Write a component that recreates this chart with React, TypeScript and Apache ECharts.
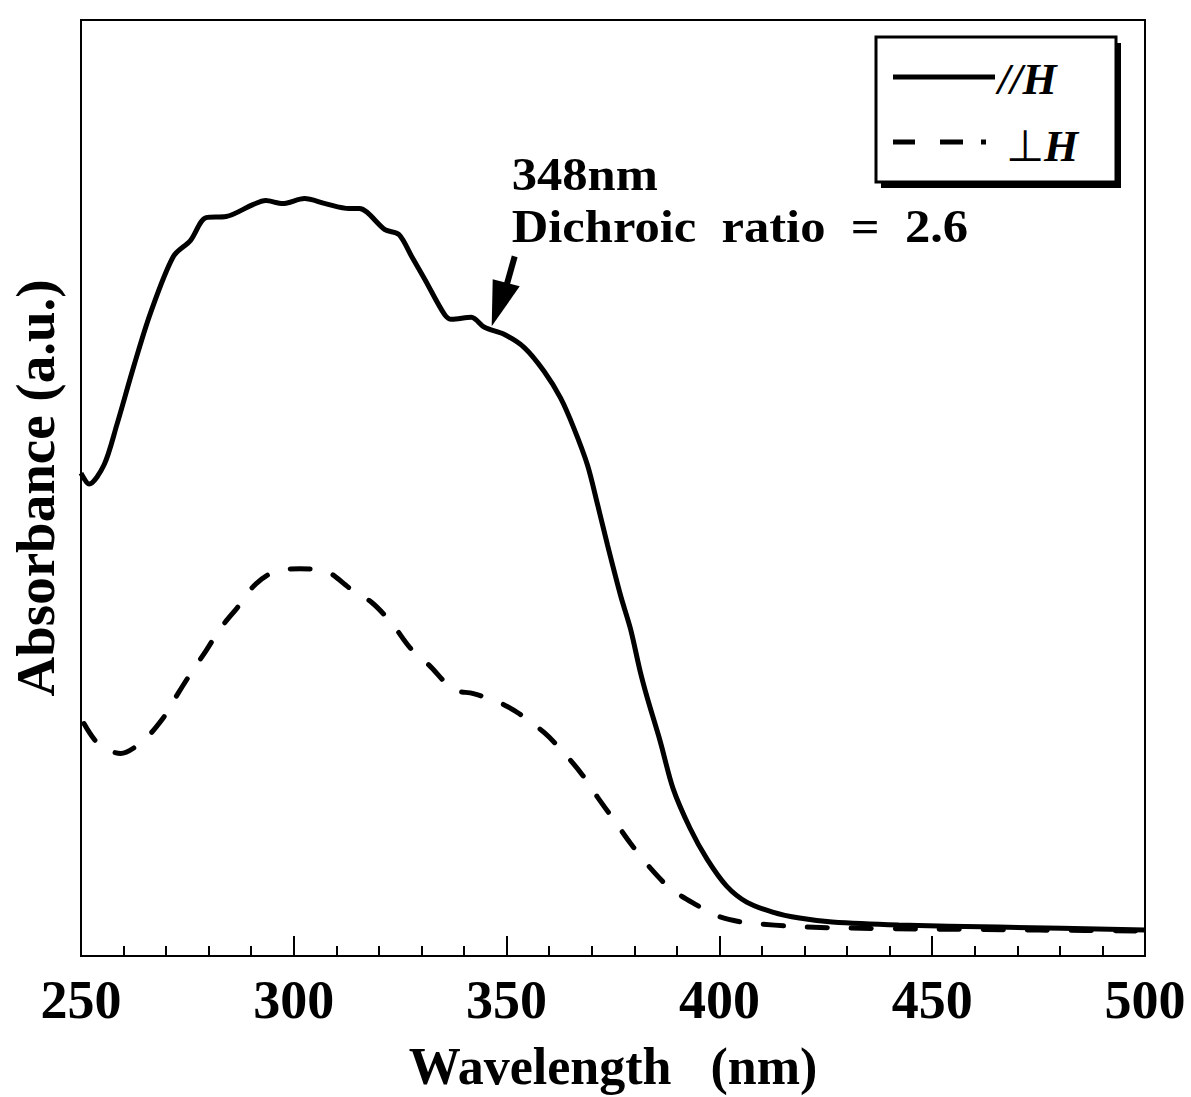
import React, { useEffect, useRef } from "react";
import * as echarts from "echarts";

// Wavelength (nm) and absorbance (arbitrary units)
const parWavelength = [250, 251.9, 255.4, 258.4, 262.4, 266.3, 271.7, 275.7, 279.4, 284.1, 290.4, 293.4, 297.4, 302.5, 307.4, 313.0, 315.4, 321.4, 324.7, 327.7, 330.8, 335.4, 337.1, 341.7, 344.8, 349.4, 354.1, 358.8, 362.7, 365.8, 369.0, 371.4, 373.7, 376.8, 379.1, 381.4, 383.1, 386.1, 389.1, 393.1, 397.1, 401.7, 406.4, 412.5, 418.8, 426.5, 442.1, 465.5, 500];
const parAbsorbance = [484, 473, 492, 532, 591, 644, 701, 717, 740, 741, 753, 757, 754, 759, 754, 749, 749, 728, 723, 701, 678, 643, 638, 640, 630, 623, 610, 586, 559, 529, 492, 452, 412, 361, 328, 285, 258, 215, 168, 128, 97, 70, 54, 44, 38, 34, 31, 29, 26];

const perpWavelength = [250.7, 254.2, 259.3, 264.7, 269.4, 272.2, 275.9, 279.4, 282.7, 286.9, 291.1, 296.7, 301.4, 307.4, 313.0, 318.4, 323.1, 327.3, 331.9, 337.5, 342.2, 348.3, 352.9, 358.8, 363.4, 367.9, 371.4, 375.6, 379.1, 383.8, 388.4, 394.7, 399.6, 405.2, 409.9, 416.0, 420.4, 430, 450, 475, 500];
const perpAbsorbance = [233, 212, 203, 216, 239, 259, 284, 306, 328, 350, 373, 387, 388, 386, 369, 354, 333, 309, 291, 267, 263, 254, 243, 224, 204, 181, 159, 134, 113, 88, 68, 51, 40, 34, 32, 30, 29, 28, 27, 26, 25];

const xMin = 250;
const xMax = 500;
const xInterval = 50;
const yMax = 938;

const arrowWavelength = 346.5;
const arrowAbsorbance = 631;
const annotationLines = ["348nm", "Dichroic  ratio  =  2.6"];
const legendPar = "//H";
const legendPerp = "⊥";
const legendH = "H";

const FONT = "'Liberation Serif', 'Times New Roman', serif";

export default function App() {
  const ref = useRef<HTMLDivElement>(null);

  useEffect(() => {
    if (!ref.current) return;
    const chart = echarts.init(ref.current, undefined, { renderer: "svg" });
    const parData = parWavelength.map((w, i) => [w, parAbsorbance[i]]);
    const perpData = perpWavelength.map((w, i) => [w, perpAbsorbance[i]]);

    chart.setOption({
      animation: false,
      backgroundColor: "#ffffff",
      grid: {
        left: 74,
        right: 46,
        top: 20,
        bottom: 139,
        show: true,
        borderColor: "#000",
        borderWidth: 2,
        backgroundColor: "transparent",
      },
      xAxis: {
        type: "value",
        min: xMin,
        max: xMax,
        interval: xInterval,
        name: "Wavelength   (nm)",
        nameLocation: "middle",
        nameGap: 84,
        nameTextStyle: { fontFamily: FONT, fontWeight: "bold", fontSize: 52, color: "#000" },
        axisLine: { show: true, lineStyle: { color: "#000", width: 2 } },
        axisTick: { show: true, inside: true, length: 20, lineStyle: { color: "#000", width: 2 } },
        minorTick: { show: true, splitNumber: 5, length: 10, lineStyle: { color: "#000", width: 2 } },
        axisLabel: { fontFamily: FONT, fontWeight: "bold", fontSize: 54, color: "#000", margin: 17 },
        splitLine: { show: false },
      },
      yAxis: {
        type: "value",
        min: 0,
        max: yMax,
        name: "Absorbance (a.u.)",
        nameLocation: "middle",
        nameGap: 18,
        nameTextStyle: { fontFamily: FONT, fontWeight: "bold", fontSize: 55, color: "#000" },
        axisLine: { show: true, lineStyle: { color: "#000", width: 2 } },
        axisTick: { show: false },
        axisLabel: { show: false },
        splitLine: { show: false },
      },
      series: [
        {
          name: "//H",
          type: "line",
          data: parData,
          showSymbol: false,
          smooth: 0.3,
          lineStyle: { color: "#000", width: 5 },
        },
        {
          name: "⊥H",
          type: "line",
          data: perpData,
          showSymbol: false,
          smooth: 0.3,
          lineStyle: { color: "#000", width: 5, type: [20, 24], cap: "round" },
        },
      ],
    });

    const tip = chart.convertToPixel({ gridIndex: 0 }, [arrowWavelength, arrowAbsorbance]) as number[];
    const tx = tip[0];
    const ty = tip[1];

    chart.setOption({
      graphic: [
        // annotation
        {
          type: "text",
          x: tx + 20,
          y: ty - 178,
          scaleX: 1.1,
          style: {
            text: annotationLines.join("\n"),
            font: `bold 46px ${FONT}`,
            lineHeight: 52,
            fill: "#000",
            textVerticalAlign: "top",
          },
        },
        {
          type: "line",
          shape: { x1: tx + 23, y1: ty - 70, x2: tx + 14, y2: ty - 38 },
          style: { stroke: "#000", lineWidth: 6 },
        },
        {
          type: "polygon",
          shape: { points: [[tx, ty], [tx + 1, ty - 47], [tx + 28, ty - 40]] },
          style: { fill: "#000" },
        },
        // legend box with shadow
        {
          type: "rect",
          shape: { x: 881, y: 43, width: 240, height: 145 },
          style: { fill: "#000" },
        },
        {
          type: "rect",
          shape: { x: 876, y: 37, width: 240, height: 145 },
          style: { fill: "#fff", stroke: "#000", lineWidth: 3 },
        },
        {
          type: "line",
          shape: { x1: 893, y1: 77, x2: 995, y2: 77 },
          style: { stroke: "#000", lineWidth: 5 },
        },
        {
          type: "text",
          x: 998,
          y: 79,
          style: { text: legendPar, font: `italic bold 44px ${FONT}`, fill: "#000", textVerticalAlign: "middle" },
        },
        {
          type: "line",
          shape: { x1: 893, y1: 142, x2: 915, y2: 142 },
          style: { stroke: "#000", lineWidth: 5 },
        },
        {
          type: "line",
          shape: { x1: 940, y1: 142, x2: 963, y2: 142 },
          style: { stroke: "#000", lineWidth: 5 },
        },
        {
          type: "line",
          shape: { x1: 981, y1: 142, x2: 986, y2: 142 },
          style: { stroke: "#000", lineWidth: 5 },
        },
        {
          type: "text",
          x: 1006,
          y: 146,
          style: {
            text: `{p|${legendPerp}}{h|${legendH}}`,
            textVerticalAlign: "middle",
            rich: {
              p: { font: `44px ${FONT}`, fill: "#000" },
              h: { font: `italic bold 44px ${FONT}`, fill: "#000" },
            },
          },
        },
      ],
    });

    return () => chart.dispose();
  }, []);

  return <div ref={ref} style={{ width: 1191, height: 1097, position: "absolute", left: 0, top: 0 }} />;
}
